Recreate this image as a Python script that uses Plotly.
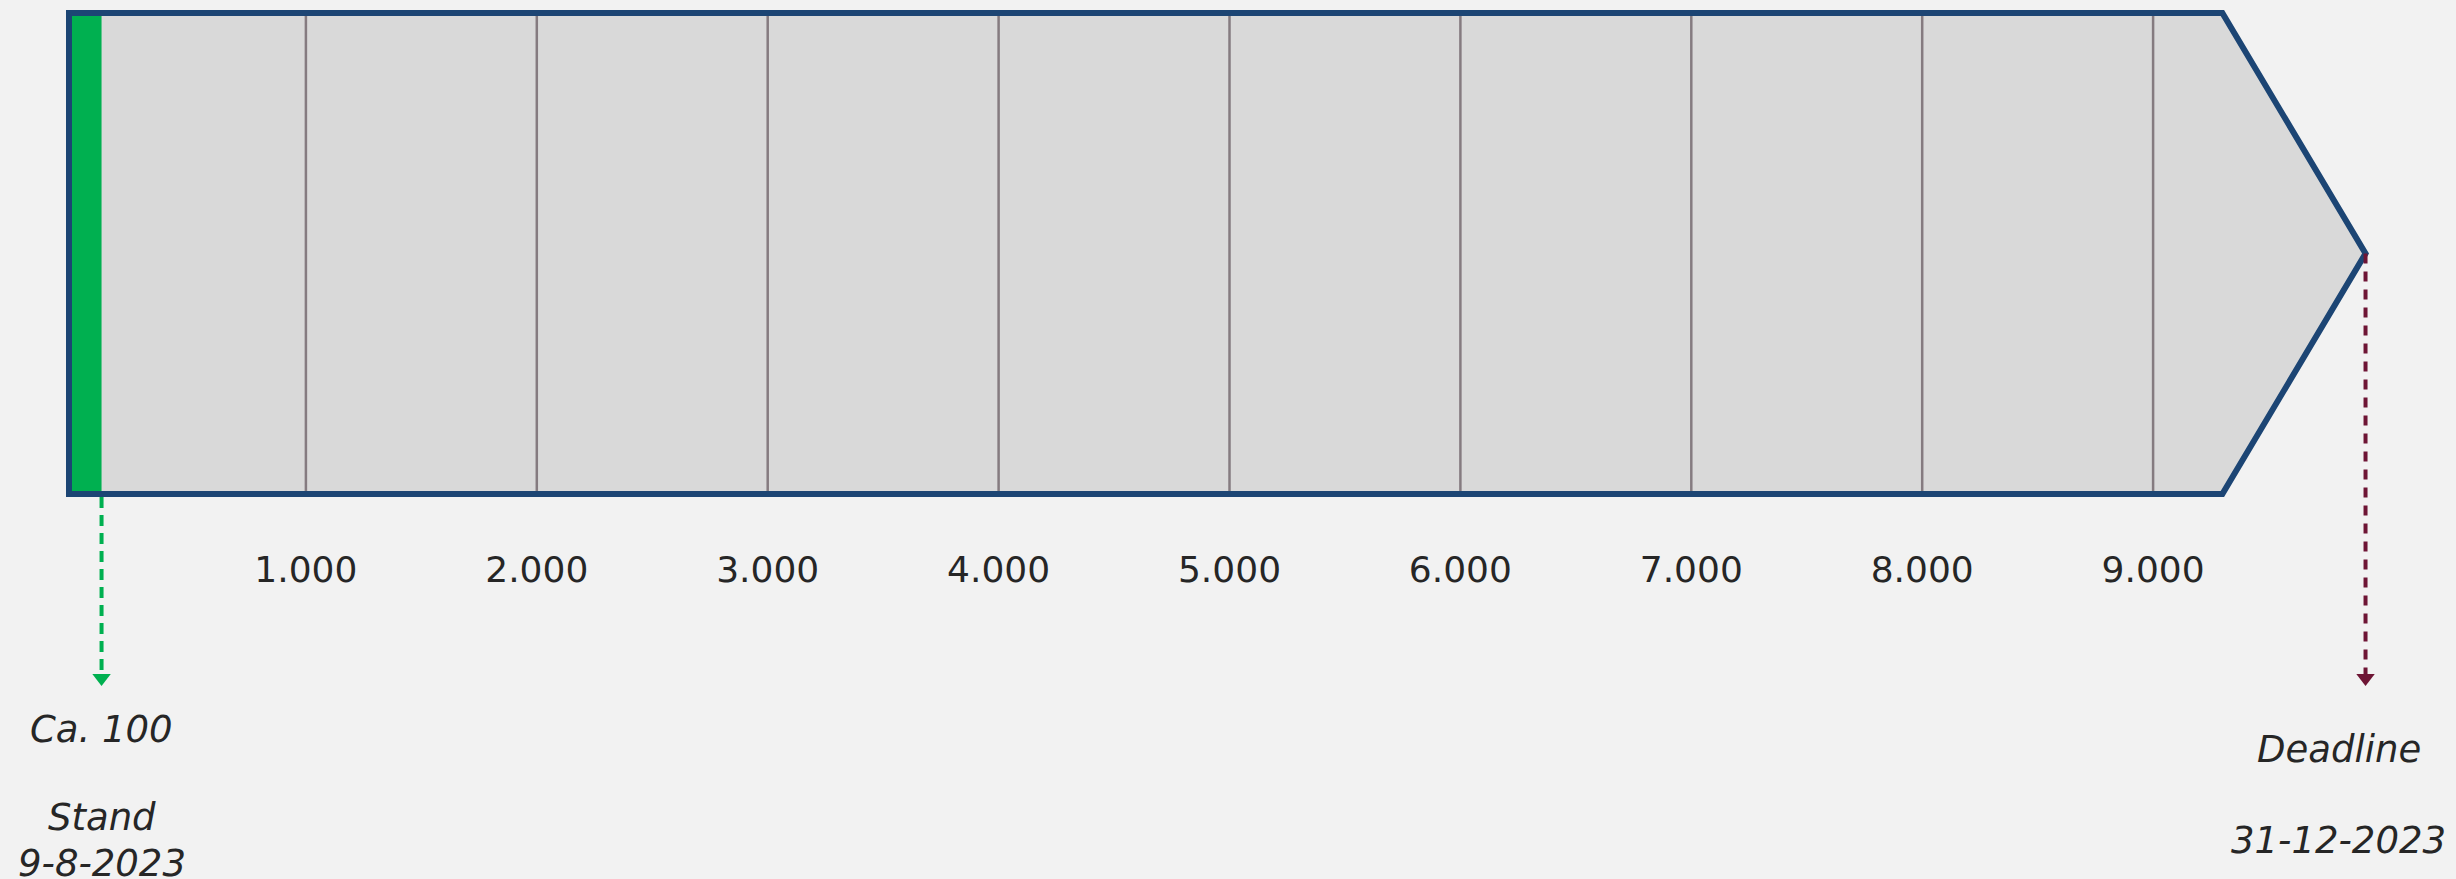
import plotly.graph_objects as go

# ---- data ----
TICK_VALUES = [1000, 2000, 3000, 4000, 5000, 6000, 7000, 8000, 9000]
TICK_LABELS = ["1.000", "2.000", "3.000", "4.000", "5.000", "6.000", "7.000", "8.000", "9.000"]
BOX_START = -26          # left edge of the progress arrow
PROGRESS = 115           # current count (labelled "Ca. 100")
BODY_END = 9300          # end of the rectangular body of the arrow
DEADLINE = 9920          # arrow tip / deadline marker
PROGRESS_LABEL = "Ca. 100"
STATUS_LABELS = ["Stand", "9-8-2023"]
DEADLINE_LABELS = ["Deadline", "31-12-2023"]

# ---- layout constants (vertical positions in layout units, top = 0) ----
W, H = 2456, 879
BAR_TOP, BAR_BOTTOM = 13, 494
BAR_MID = (BAR_TOP + BAR_BOTTOM) / 2
ARROW_END = 684
TICK_Y = 573

BG = "#f2f2f2"
FILL = "#d9d9d9"
BORDER = "#1c4574"
GREEN = "#00b050"
MAROON = "#6e1535"
GRID = "#857b80"
TEXT = "#262626"

# x-axis mapping: value 0 at px 75, 1000 units = 230.9 px
px_per_unit = 0.2309
x0_px = 75
x_range = [-x0_px / px_per_unit, (W - x0_px) / px_per_unit]

fig = go.Figure()

outline = (f"M {BOX_START},{BAR_TOP} L {BODY_END},{BAR_TOP} L {DEADLINE},{BAR_MID} "
           f"L {BODY_END},{BAR_BOTTOM} L {BOX_START},{BAR_BOTTOM} Z")

shapes = []
shapes.append(dict(type="path", path=outline, xref="x", yref="y",
                   fillcolor=FILL, line=dict(width=0), layer="below"))
for v in TICK_VALUES:
    shapes.append(dict(type="line", xref="x", yref="y", x0=v, x1=v,
                       y0=BAR_TOP, y1=BAR_BOTTOM, line=dict(color=GRID, width=2.5)))
shapes.append(dict(type="rect", xref="x", yref="y", x0=BOX_START, x1=PROGRESS,
                   y0=BAR_TOP, y1=BAR_BOTTOM, fillcolor=GREEN, line=dict(width=0)))
shapes.append(dict(type="path", path=outline, xref="x", yref="y",
                   fillcolor="rgba(0,0,0,0)", line=dict(color=BORDER, width=6)))
shapes.append(dict(type="line", xref="x", yref="y", x0=PROGRESS, x1=PROGRESS,
                   y0=BAR_BOTTOM + 3, y1=ARROW_END - 8,
                   line=dict(color=GREEN, width=4, dash="11px,7px")))
shapes.append(dict(type="line", xref="x", yref="y", x0=DEADLINE, x1=DEADLINE,
                   y0=BAR_MID, y1=ARROW_END - 8,
                   line=dict(color=MAROON, width=4, dash="10px,8px")))

# arrow heads
fig.add_trace(go.Scatter(x=[PROGRESS, DEADLINE], y=[ARROW_END - 6, ARROW_END - 6],
                         mode="markers", hoverinfo="skip",
                         marker=dict(symbol="triangle-down", size=16,
                                     color=[GREEN, MAROON], line=dict(width=0))))

# tick labels
fig.add_trace(go.Scatter(x=TICK_VALUES, y=[TICK_Y] * len(TICK_VALUES), mode="text",
                         text=TICK_LABELS, textposition="middle center", hoverinfo="skip",
                         textfont=dict(family="DejaVu Sans", size=36, color=TEXT)))

ital = dict(family="DejaVu Sans", size=37, color=TEXT)
annotations = [
    dict(x=PROGRESS, y=729, text=f"<i>{PROGRESS_LABEL}</i>"),
    dict(x=PROGRESS, y=817, text=f"<i>{STATUS_LABELS[0]}</i>"),
    dict(x=PROGRESS, y=863, text=f"<i>{STATUS_LABELS[1]}</i>"),
    dict(x=DEADLINE, y=749, text=f"<i>{DEADLINE_LABELS[0]}</i>", xshift=-27),
    dict(x=DEADLINE, y=840, text=f"<i>{DEADLINE_LABELS[1]}</i>", xshift=-27),
]
for a in annotations:
    a.update(xref="x", yref="y", showarrow=False, font=ital,
             xanchor="center", yanchor="middle")

fig.update_layout(
    width=W, height=H, margin=dict(l=0, r=0, t=0, b=0),
    paper_bgcolor=BG, plot_bgcolor=BG, showlegend=False,
    xaxis=dict(range=x_range, visible=False, fixedrange=True),
    yaxis=dict(range=[H, 0], visible=False, fixedrange=True),
    shapes=shapes, annotations=annotations,
)

fig.write_html("out.html", config={"displayModeBar": False},
               post_script="document.body.style.margin='0';document.body.style.overflow='hidden';")
